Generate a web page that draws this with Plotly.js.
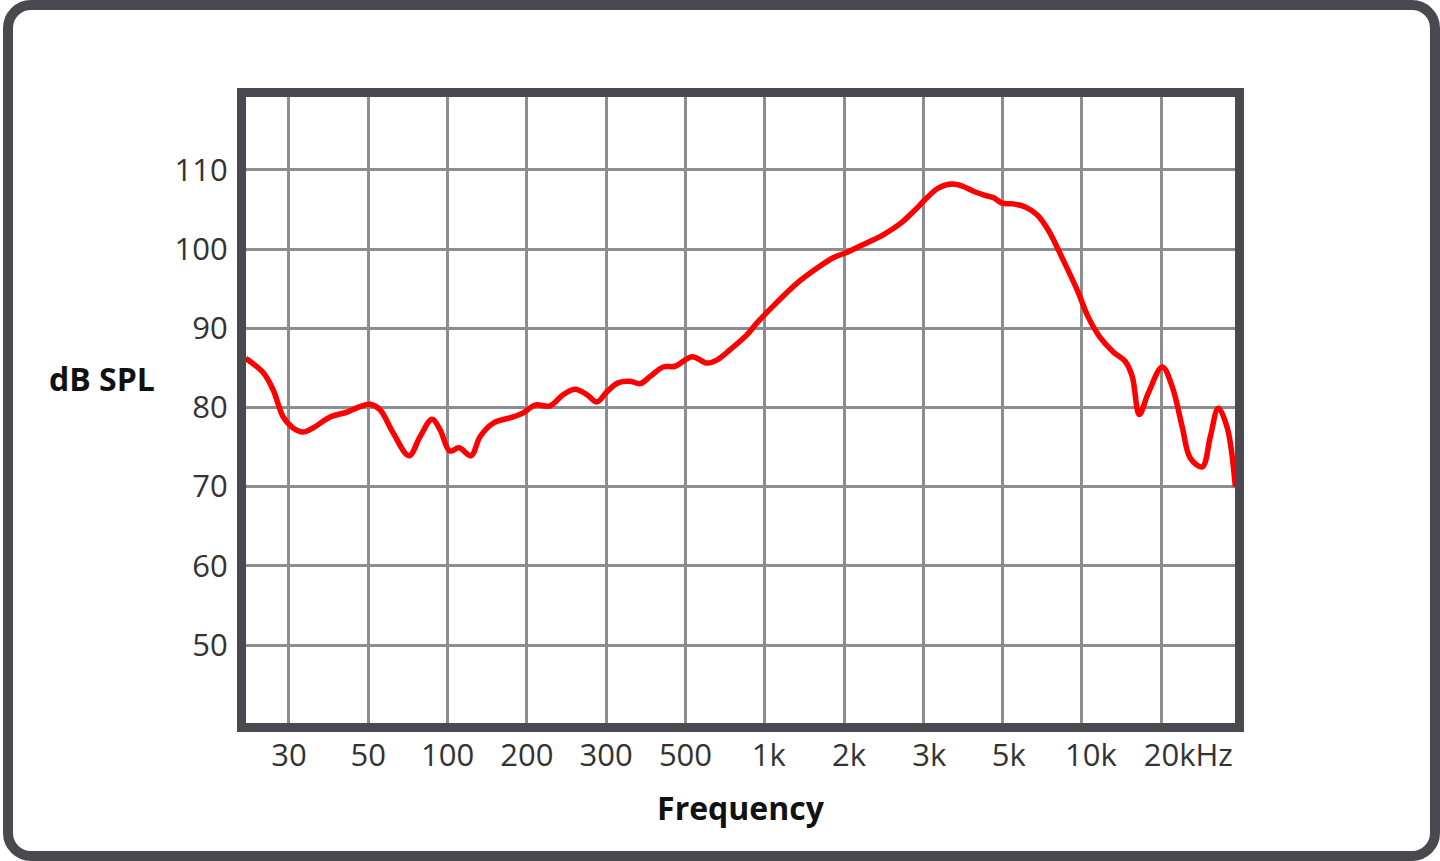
<!DOCTYPE html>
<html>
<head>
<meta charset="utf-8">
<script src="https://cdn.plot.ly/plotly-3.0.1.min.js"></script>
<style>
    html, body {
        margin: 0;
        padding: 0;
        background: #fff;
    }
    #wrap {
        position: relative;
        width: 1440px;
        height: 861px;
        overflow: hidden;
    }
    #graph {
        position: absolute;
        left: 0;
        top: 0;
        width: 1440px;
        height: 861px;
    }
    /* rounded outer frame round the whole card */
    #frame {
        position: absolute;
        left: 3px;
        top: 0;
        right: 0;
        bottom: 0;
        border: 10px solid #4a4950;
        border-radius: 28px;
        box-sizing: border-box;
        pointer-events: none;
    }
</style>
</head>
<body>
<div id="wrap">
    <div id="graph"></div>
    <div id="frame"></div>
</div>
<script>
// grid frequencies (evenly spaced on the chart, not a true log scale)
const tickFreqs = [30, 50, 100, 200, 300, 500, 1000, 2000, 3000, 5000, 10000, 20000];
const tickLabels = ["30", "50", "100", "200", "300", "500", "1k", "2k", "3k", "5k", "10k", "20kHz"];
const dbTicks = [50, 60, 70, 80, 90, 100, 110];

// response curve
const freqHz = [
    22.7, 25.4, 27.1, 28.9, 30.8, 32.8, 35.0, 39.1, 43.6, 47.4,
    50.8, 55.4, 62.1, 71.4, 78.6, 87.3, 93.6, 102, 110.6, 122.8,
    132.8, 148.9, 177.3, 193.4, 208.5, 225.2, 240.7, 255.9, 272.1, 286.2,
    301.8, 323.9, 350.0, 373.3, 398.1, 432.9, 467.7, 530, 604.2, 659.4,
    738.8, 857.2, 935.6, 1114, 1327, 1581, 1818, 2032, 2251, 2443,
    2665, 2848, 3075, 3301, 3613, 3878, 4190, 4526, 4705, 4986,
    5484, 6091, 6765, 7448, 8491, 9597, 10566, 11735, 13147, 14602,
    15525, 16503, 17854, 20181, 22026, 24038, 25778, 28631, 30704, 32929,
    35622, 38208
];
const splDb = [
    86.2, 84.4, 82.2, 78.8, 77.4, 76.9, 77.4, 78.8, 79.4, 80.1,
    80.4, 79.7, 76.8, 73.9, 76.3, 78.5, 77.2, 74.5, 74.9, 73.9,
    76.3, 78.0, 78.8, 79.3, 80.3, 80.2, 81.6, 82.3, 81.6, 80.7,
    82.0, 83.1, 83.3, 83.0, 83.9, 85.1, 85.2, 86.4, 85.6, 86.0,
    87.3, 89.2, 90.7, 93.3, 95.7, 97.6, 98.9, 99.6, 100.8, 101.8,
    103.2, 104.7, 106.5, 107.7, 108.2, 107.9, 107.2, 106.7, 106.5, 105.8,
    105.7, 105.3, 104.3, 102.4, 98.6, 94.8, 91.4, 88.8, 87.0, 85.8,
    83.9, 79.1, 81.8, 85.1, 82.6, 77.5, 73.6, 72.5, 76.3, 79.9,
    77.4, 70.0
];

// the "k" labels hang to the right of their grid line (px)
const labelNudgePx = [0, 0, 0, 0, 0, 0, 4, 5, 6, 6, 9, 27];

// map a frequency onto the chart's evenly spaced grid (log between grid lines)
function freqToPos(f) {
    var k = 0;
    while (k < tickFreqs.length - 2 && f >= tickFreqs[k + 1]) {
        k++;
    }
    return k + Math.log(f / tickFreqs[k]) / Math.log(tickFreqs[k + 1] / tickFreqs[k]);
}

const frameColor = '#4a4950';
const gridColor = '#8c8c91';

function initPlot() {
    const margin = { l: 246, r: 205, t: 97, b: 138 };
    const xRange = [-0.542, 11.93];
    const pxPerStep = (1440 - margin.l - margin.r) / (xRange[1] - xRange[0]);
    const gridPos = tickFreqs.map(freqToPos);
    const labelPos = gridPos.map((p, i) => p + labelNudgePx[i] / pxPerStep);

    const trace = {
        x: freqHz.map(freqToPos),
        y: splDb,
        mode: 'lines',
        line: { color: '#ff0000', width: 5.5, shape: 'spline', smoothing: 1 },
        hoverinfo: 'skip',
    };

    const layout = {
        width: 1440,
        height: 861,
        margin: margin,
        paper_bgcolor: '#ffffff',
        plot_bgcolor: '#ffffff',
        showlegend: false,
        font: { family: '"Open Sans", "DejaVu Sans", sans-serif', color: '#333333' },
        xaxis: {
            range: xRange,
            tickmode: 'array',
            tickvals: labelPos,
            ticktext: tickLabels,
            tickangle: 0,
            ticks: '',
            ticklabelstandoff: -3,
            tickfont: { size: 31, color: '#333333' },
            showgrid: false,
            // grid lines sit on the frequencies themselves
            minor: {
                tickmode: 'array',
                tickvals: gridPos,
                ticks: '',
                showgrid: true,
                gridcolor: gridColor,
                gridwidth: 3,
            },
            zeroline: false,
            showline: true,
            linecolor: frameColor,
            linewidth: 9,
            mirror: true,
            fixedrange: true,
            automargin: false,
            title: {
                text: 'Frequency',
                font: { size: 32, color: '#111111', weight: 700 },
                standoff: 27,
            },
        },
        yaxis: {
            range: [40.15, 119.2],
            tickmode: 'array',
            tickvals: dbTicks,
            ticks: '',
            ticklabelstandoff: 3,
            tickfont: { size: 31, color: '#333333' },
            showgrid: true,
            gridcolor: gridColor,
            gridwidth: 3,
            zeroline: false,
            showline: true,
            linecolor: frameColor,
            linewidth: 9,
            mirror: true,
            fixedrange: true,
            automargin: false,
        },
        annotations: [{
            text: 'dB SPL',
            xref: 'paper',
            yref: 'paper',
            x: -0.1456,
            y: 0.551,
            xanchor: 'center',
            yanchor: 'middle',
            showarrow: false,
            font: { size: 32, color: '#111111', weight: 700 },
        }],
    };

    const config = {
        displayModeBar: false,
        staticPlot: true,
    };

    Plotly.newPlot('graph', [trace], layout, config);
}

document.addEventListener('DOMContentLoaded', initPlot);
</script>
</body>
</html>
